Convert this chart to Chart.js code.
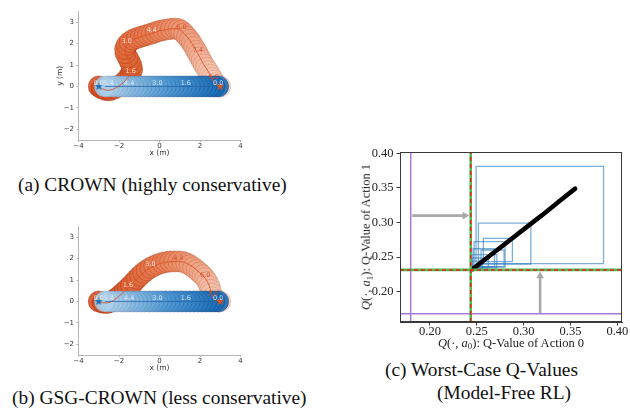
<!DOCTYPE html>
<html>
<head>
<meta charset="utf-8">
<script src="https://cdn.jsdelivr.net/npm/chart.js@4.4.1/dist/chart.umd.min.js"></script>
<style>
html,body{margin:0;padding:0;background:#fff;}
body{width:630px;height:412px;position:relative;overflow:hidden;}
canvas{position:absolute;}
.t{position:absolute;white-space:nowrap;font-family:"Liberation Serif","Times New Roman",serif;color:#111;line-height:1;}
.cap{font-size:19.4px;}
.ax{font-size:12.5px;color:#222;}
.ax sub{font-size:0.7em;vertical-align:-0.3em;line-height:0;}
</style>
</head>
<body>
<canvas id="ca" width="260" height="165" style="left:0;top:0"></canvas>
<canvas id="cb" width="260" height="165" style="left:0;top:215px"></canvas>
<canvas id="cc" width="275" height="210" style="left:355px;top:140px"></canvas>

<div class="t cap" style="left:18px;top:185px;transform:translateY(-50%)">(a) CROWN (highly conservative)</div>
<div class="t cap" style="left:12px;top:398px;transform:translateY(-50%)">(b) GSG-CROWN (less conservative)</div>
<div class="t cap" style="left:385px;top:370px;transform:translateY(-50%)">(c) Worst-Case Q-Values</div>
<div class="t cap" style="left:437px;top:393px;transform:translateY(-50%)">(Model-Free RL)</div>
<div class="t ax" style="left:511px;top:343px;transform:translate(-50%,-50%)"><i>Q</i>(·, <i>a</i><sub>0</sub>): Q-Value of Action 0</div>
<div class="t ax" style="left:366px;top:237px;transform:translate(-50%,-50%) rotate(-90deg)"><i>Q</i>(·, <i>a</i><sub>1</sub>): Q-Value of Action 1</div>

<script>
// ---------------- Panel (a): CROWN ----------------
const A_ORANGE_X = [-3.00,-2.85,-2.65,-2.45,-2.22,-2.00,-1.78,-1.58,-1.42,-1.35,-1.38,-1.47,-1.58,-1.68,-1.70,-1.62,-1.48,-1.30,-1.11,-0.92,-0.74,-0.56,-0.38,-0.20,-0.02,0.17,0.37,0.57,0.77,0.94,1.08,1.22,1.36,1.49,1.60,1.71,1.82,1.90,1.99,2.08,2.18,2.29,2.40,2.50,2.59,2.67,2.76,2.86,3.00];
const A_ORANGE_Y = [0.00,-0.10,-0.17,-0.18,-0.10,0.02,0.18,0.38,0.58,0.78,0.98,1.17,1.36,1.55,1.75,1.94,2.08,2.19,2.26,2.32,2.37,2.42,2.47,2.53,2.59,2.63,2.66,2.69,2.70,2.68,2.60,2.47,2.32,2.17,2.01,1.84,1.66,1.52,1.36,1.20,1.03,0.87,0.71,0.55,0.40,0.27,0.15,0.06,0.00];
const A_ORANGE_LABELS = ['0.0','1.6','3.0','4.4','6.0','7.4','9.0'];
const A_ORANGE_LABEL_IDX = [0,8,15,22,30,37,45];
const A_BLUE_X = [2.9,2.7,2.5,2.3,2.1,1.9,1.7,1.5,1.3,1.1,0.9,0.7,0.5,0.3,0.1,-0.1,-0.3,-0.5,-0.7,-0.9,-1.1,-1.3,-1.5,-1.7,-1.9,-2.1,-2.3,-2.5,-2.7];
const A_BLUE_Y = [0,0,0,0,0,0,0,0,0,0,0,0,0,0,0,0,0,0,0,0,0,0,0,0,0,0,0,0,0];
const A_BLUE_LABELS = ['0.0','1.6','3.0','4.4','5.4'];
const A_BLUE_LABEL_IDX = [0,8,15,22,27];

// ---------------- Panel (b): GSG-CROWN ----------------
const B_ORANGE_X = [-3.00,-2.80,-2.60,-2.41,-2.23,-2.06,-1.89,-1.72,-1.56,-1.41,-1.26,-1.11,-0.96,-0.80,-0.63,-0.45,-0.26,-0.07,0.13,0.33,0.53,0.73,0.93,1.13,1.32,1.50,1.67,1.83,1.98,2.13,2.26,2.37,2.46,2.52,2.56,2.62,2.74,2.88,3.00];
const B_ORANGE_Y = [0.00,-0.06,-0.07,-0.02,0.08,0.20,0.34,0.48,0.62,0.76,0.91,1.06,1.20,1.34,1.46,1.57,1.66,1.74,1.80,1.84,1.86,1.87,1.87,1.85,1.79,1.70,1.59,1.47,1.35,1.22,1.08,0.91,0.73,0.54,0.36,0.19,0.07,0.01,0.00];
const B_ORANGE_LABELS = ['0.0','1.6','3.0','4.4','6.0','7.0'];
const B_ORANGE_LABEL_IDX = [0,8,15,22,30,35];
const B_BLUE_X = [2.9,2.7,2.5,2.3,2.1,1.9,1.7,1.5,1.3,1.1,0.9,0.7,0.5,0.3,0.1,-0.1,-0.3,-0.5,-0.7,-0.9,-1.1,-1.3,-1.5,-1.7,-1.9,-2.1,-2.3,-2.5,-2.7];
const B_BLUE_Y = [0,0,0,0,0,0,0,0,0,0,0,0,0,0,0,0,0,0,0,0,0,0,0,0,0,0,0,0,0];
const B_BLUE_LABELS = ['0.0','1.6','3.0','4.4','5.4'];
const B_BLUE_LABEL_IDX = [0,8,15,22,27];

// goals (stars)
const GOAL_BLUE = [-3.0, 0.0];
const GOAL_ORANGE = [3.0, 0.0];

const TRAJ_X_TICKS = [-4,-2,0,2,4];
const TRAJ_Y_TICKS = [-2,-1,0,1,2,3];

// ---------------- Panel (c): worst-case Q-values ----------------
const C_X_TICKS = [0.20,0.25,0.30,0.35,0.40];
const C_Y_TICKS = [0.20,0.25,0.30,0.35,0.40];
const C_RECT_X0 = [0.2492,0.2517,0.2570,0.2471,0.2545,0.2446,0.2446,0.2460,0.2450];
const C_RECT_X1 = [0.3853,0.3077,0.2880,0.2802,0.2791,0.2714,0.2623,0.2690,0.2560];
const C_RECT_Y0 = [0.2405,0.2399,0.2434,0.2354,0.2361,0.2342,0.2342,0.2360,0.2335];
const C_RECT_Y1 = [0.3812,0.2990,0.2771,0.2724,0.2602,0.2534,0.2486,0.2620,0.2440];
const C_BLACK_X = [0.2455,0.2600,0.2800,0.3000,0.3200,0.3400,0.3550];
const C_BLACK_Y = [0.2325,0.2480,0.2690,0.2900,0.3110,0.3330,0.3490];
const C_PURPLE_X = 0.1794;
const C_PURPLE_Y = 0.1680;
const C_WORST_X = 0.2435;
const C_WORST_Y = 0.2314;
const C_HARROW_X = [0.1810, 0.2372];
const C_HARROW_Y = [0.3100, 0.3100];
const C_VARROW_X = [0.3176, 0.3176];
const C_VARROW_Y = [0.1690, 0.2225];

// ---------------- helpers ----------------
function lerp3(stops, f){
  let a,b,t;
  if (f<=0.5){a=stops[0];b=stops[1];t=f/0.5;} else {a=stops[1];b=stops[2];t=(f-0.5)/0.5;}
  return [0,1,2].map(i=>Math.round(a[i]+(b[i]-a[i])*t));
}
const OR_STOPS = [[210,76,26],[232,128,88],[249,210,192]];
const BL_STOPS = [[20,105,180],[78,152,209],[168,207,234]];
function rgba(c,a){return `rgba(${c[0]},${c[1]},${c[2]},${a})`;}
function starImg(color, r){
  const c=document.createElement('canvas'); const s=Math.ceil(r*2+2);
  c.width=s; c.height=s; const g=c.getContext('2d');
  g.beginPath();
  for(let i=0;i<10;i++){const ang=-Math.PI/2+i*Math.PI/5; const rr=(i%2)?r*0.42:r; g.lineTo(s/2+rr*Math.cos(ang), s/2+rr*Math.sin(ang));}
  g.closePath(); g.fillStyle=color; g.fill(); return c;
}
const minus = v => String(v).replace('-', '\u2212');

function trajChart(id, ox, oy, oIdx, oLab, bx, by, bIdx, bLab, showYTitle){
  const oN=ox.length, bN=bx.length;
  const oPts=ox.map((x,i)=>({x, y:oy[i]}));
  const bPts=bx.map((x,i)=>({x, y:by[i]}));
  const oCol=ox.map((_,i)=>lerp3(OR_STOPS,i/(oN-1)));
  const bCol=bx.map((_,i)=>lerp3(BL_STOPS,i/(bN-1)));
  const labelPlugin = {
    id:'trajLabels',
    afterDatasetsDraw(chart){
      const {ctx, scales:{x,y}} = chart;
      ctx.save();
      ctx.font='6.5px "DejaVu Sans"';
      ctx.textAlign='center'; ctx.textBaseline='alphabetic';
      oIdx.forEach((k,j)=>{
        const f=k/(oN-1);
        ctx.fillStyle = f<0.55 ? 'rgba(255,236,226,0.85)' : 'rgba(205,78,40,0.9)';
        ctx.fillText(oLab[j], x.getPixelForValue(ox[k]), y.getPixelForValue(oy[k])-1.5);
      });
      bIdx.forEach((k,j)=>{
        ctx.fillStyle='rgba(225,238,250,0.85)';
        ctx.fillText(bLab[j], x.getPixelForValue(bx[k]), y.getPixelForValue(by[k])-1.5);
      });
      ctx.restore();
    }
  };
  const tickFont={family:'DejaVu Sans', size:7, lineHeight:1};
  return new Chart(document.getElementById(id), {
    type:'scatter',
    data:{datasets:[
      {label:'orange agent', data:oPts, pointRadius:10.5, pointHoverRadius:10.5,
       backgroundColor:oCol.map(c=>rgba(c,0.86)), borderColor:oCol.map(c=>rgba([Math.max(c[0]-50,0),Math.max(c[1]-60,0),Math.max(c[2]-60,0)],0.6)), borderWidth:0.7, order:5},
      {label:'blue agent', data:bPts, pointRadius:10.5, pointHoverRadius:10.5,
       backgroundColor:bCol.map(c=>rgba(c,0.88)), borderColor:bCol.map(c=>rgba([Math.max(c[0]-20,0),Math.max(c[1]-50,0),Math.max(c[2]-50,0)],0.6)), borderWidth:0.7, order:4},
      {label:'orange path', data:oPts, showLine:true, pointRadius:0, borderColor:'rgba(214,82,34,0.95)', borderWidth:0.9, order:3},
      {label:'blue path', data:bPts, showLine:true, pointRadius:0, borderColor:'rgba(30,95,165,0.8)', borderWidth:0.9, order:2},
      {label:'goals', data:[{x:GOAL_BLUE[0],y:GOAL_BLUE[1]},{x:GOAL_ORANGE[0],y:GOAL_ORANGE[1]}],
       pointStyle:[starImg('#1f6fb8',4.2), starImg('#d9531e',4.2)], pointRadius:4, order:1}
    ]},
    options:{
      responsive:false, animation:false, events:[],
      layout:{padding:{left:56,right:19.5,top:11.5,bottom:7}},
      plugins:{legend:{display:false}, tooltip:{enabled:false}},
      scales:{
        x:{type:'linear', min:-4, max:4,
          afterBuildTicks:s=>{s.ticks=TRAJ_X_TICKS.map(v=>({value:v}));},
          afterFit:s=>{s.height=18; s.paddingLeft=0; s.paddingRight=0;},
          ticks:{font:tickFont, color:'#333', padding:0.5, maxRotation:0, callback:v=>minus(v)},
          grid:{drawOnChartArea:false, tickLength:2, color:'#b5b5b5'},
          border:{color:'#b5b5b5', width:1},
          title:{display:true, text:'x (m)', font:{family:'DejaVu Sans', size:7.5, lineHeight:1.2}, color:'#333', padding:0}},
        y:{type:'linear', min:-2.5, max:3.5,
          afterBuildTicks:s=>{s.ticks=TRAJ_Y_TICKS.map(v=>({value:v}));},
          afterFit:s=>{s.width=22.5; s.paddingTop=0; s.paddingBottom=0;},
          ticks:{font:tickFont, color:'#333', padding:2.5, callback:v=>minus(v)},
          grid:{drawOnChartArea:false, tickLength:2, color:'#b5b5b5'},
          border:{color:'#b5b5b5', width:1},
          title:{display:showYTitle, text:'y (m)', font:{family:'DejaVu Sans', size:7.5, lineHeight:1.2}, color:'#333', padding:0}}
      }
    },
    plugins:[labelPlugin]
  });
}

trajChart('ca', A_ORANGE_X, A_ORANGE_Y, A_ORANGE_LABEL_IDX, A_ORANGE_LABELS, A_BLUE_X, A_BLUE_Y, A_BLUE_LABEL_IDX, A_BLUE_LABELS, true);
trajChart('cb', B_ORANGE_X, B_ORANGE_Y, B_ORANGE_LABEL_IDX, B_ORANGE_LABELS, B_BLUE_X, B_BLUE_Y, B_BLUE_LABEL_IDX, B_BLUE_LABELS, false);

// ---------------- Panel (c) chart ----------------
(function(){
  const XMIN=0.168, XMAX=0.405, YMIN=0.156, YMAX=0.402;
  const ds=[];
  C_RECT_X0.forEach((x0,i)=>{
    const x1=C_RECT_X1[i], y0=C_RECT_Y0[i], y1=C_RECT_Y1[i];
    ds.push({label:'bound '+i, data:[{x:x0,y:y0},{x:x1,y:y0},{x:x1,y:y1},{x:x0,y:y1},{x:x0,y:y0}],
      showLine:true, pointRadius:0, borderColor:'rgba(45,125,190,0.62)', borderWidth:1.3, order:20});
  });
  ds.push({label:'Q trajectory', data:C_BLACK_X.map((x,i)=>({x,y:C_BLACK_Y[i]})), showLine:true, pointRadius:0,
    borderColor:'#000', borderWidth:4.5, borderCapStyle:'round', order:10});
  ds.push({label:'purple v', data:[{x:C_PURPLE_X,y:YMIN},{x:C_PURPLE_X,y:YMAX}], showLine:true, pointRadius:0, borderColor:'#a47bd8', borderWidth:1.5, order:8});
  ds.push({label:'purple h', data:[{x:XMIN,y:C_PURPLE_Y},{x:XMAX,y:C_PURPLE_Y}], showLine:true, pointRadius:0, borderColor:'#a47bd8', borderWidth:1.5, order:8});
  ds.push({label:'green v', data:[{x:C_WORST_X,y:YMIN},{x:C_WORST_X,y:YMAX}], showLine:true, pointRadius:0, borderColor:'#52b852', borderWidth:2.6, order:7});
  ds.push({label:'green h', data:[{x:XMIN,y:C_WORST_Y},{x:XMAX,y:C_WORST_Y}], showLine:true, pointRadius:0, borderColor:'#52b852', borderWidth:2.6, order:7});
  ds.push({label:'red v', data:[{x:C_WORST_X,y:YMIN},{x:C_WORST_X,y:YMAX}], showLine:true, pointRadius:0, borderColor:'#e3221c', borderWidth:1.5, borderDash:[4,3], order:6});
  ds.push({label:'red h', data:[{x:XMIN,y:C_WORST_Y},{x:XMAX,y:C_WORST_Y}], showLine:true, pointRadius:0, borderColor:'#e3221c', borderWidth:1.5, borderDash:[4,3], order:6});
  ds.push({label:'arrow h', data:C_HARROW_X.map((x,i)=>({x,y:C_HARROW_Y[i]})), showLine:true, borderColor:'#a9a9a9', borderWidth:2.6,
    pointStyle:'triangle', pointRadius:[0,4.5], pointRotation:[0,90], pointBackgroundColor:'#a9a9a9', pointBorderWidth:0, order:5});
  ds.push({label:'arrow v', data:C_VARROW_X.map((x,i)=>({x,y:C_VARROW_Y[i]})), showLine:true, borderColor:'#a9a9a9', borderWidth:2.6,
    pointStyle:'triangle', pointRadius:[0,4.5], pointRotation:[0,0], pointBackgroundColor:'#a9a9a9', pointBorderWidth:0, order:5});

  const frame = {id:'frame', afterDatasetsDraw(chart){
    const {ctx, chartArea:a}=chart; ctx.save(); ctx.strokeStyle='#3a3a3a'; ctx.lineWidth=1;
    ctx.strokeRect(Math.round(a.left)+0.5, Math.round(a.top)+0.5, Math.round(a.right-a.left)-1, Math.round(a.bottom-a.top)-1); ctx.restore();}};
  const tf={family:'Liberation Serif', size:12.5, lineHeight:1};
  new Chart(document.getElementById('cc'), {
    type:'scatter',
    data:{datasets:ds},
    options:{
      responsive:false, animation:false, events:[],
      layout:{padding:{left:0,right:8,top:12,bottom:8}},
      plugins:{legend:{display:false}, tooltip:{enabled:false}},
      scales:{
        x:{type:'linear', min:XMIN, max:XMAX,
          afterBuildTicks:s=>{s.ticks=C_X_TICKS.map(v=>({value:v}));},
          afterFit:s=>{s.height=20; s.paddingLeft=0; s.paddingRight=0;},
          ticks:{font:tf, color:'#222', padding:0, maxRotation:0, callback:v=>Number(v).toFixed(2)},
          grid:{drawOnChartArea:false, tickLength:3.5, color:'#3a3a3a'},
          border:{color:'#3a3a3a', width:1}},
        y:{type:'linear', min:YMIN, max:YMAX,
          afterBuildTicks:s=>{s.ticks=C_Y_TICKS.map(v=>({value:v}));},
          afterFit:s=>{s.width=45; s.paddingTop=0; s.paddingBottom=0;},
          ticks:{font:tf, color:'#222', padding:3, callback:v=>Number(v).toFixed(2)},
          grid:{drawOnChartArea:false, tickLength:3.5, color:'#3a3a3a'},
          border:{color:'#3a3a3a', width:1}}
      }
    },
    plugins:[frame]
  });
})();
</script>
</body>
</html>
